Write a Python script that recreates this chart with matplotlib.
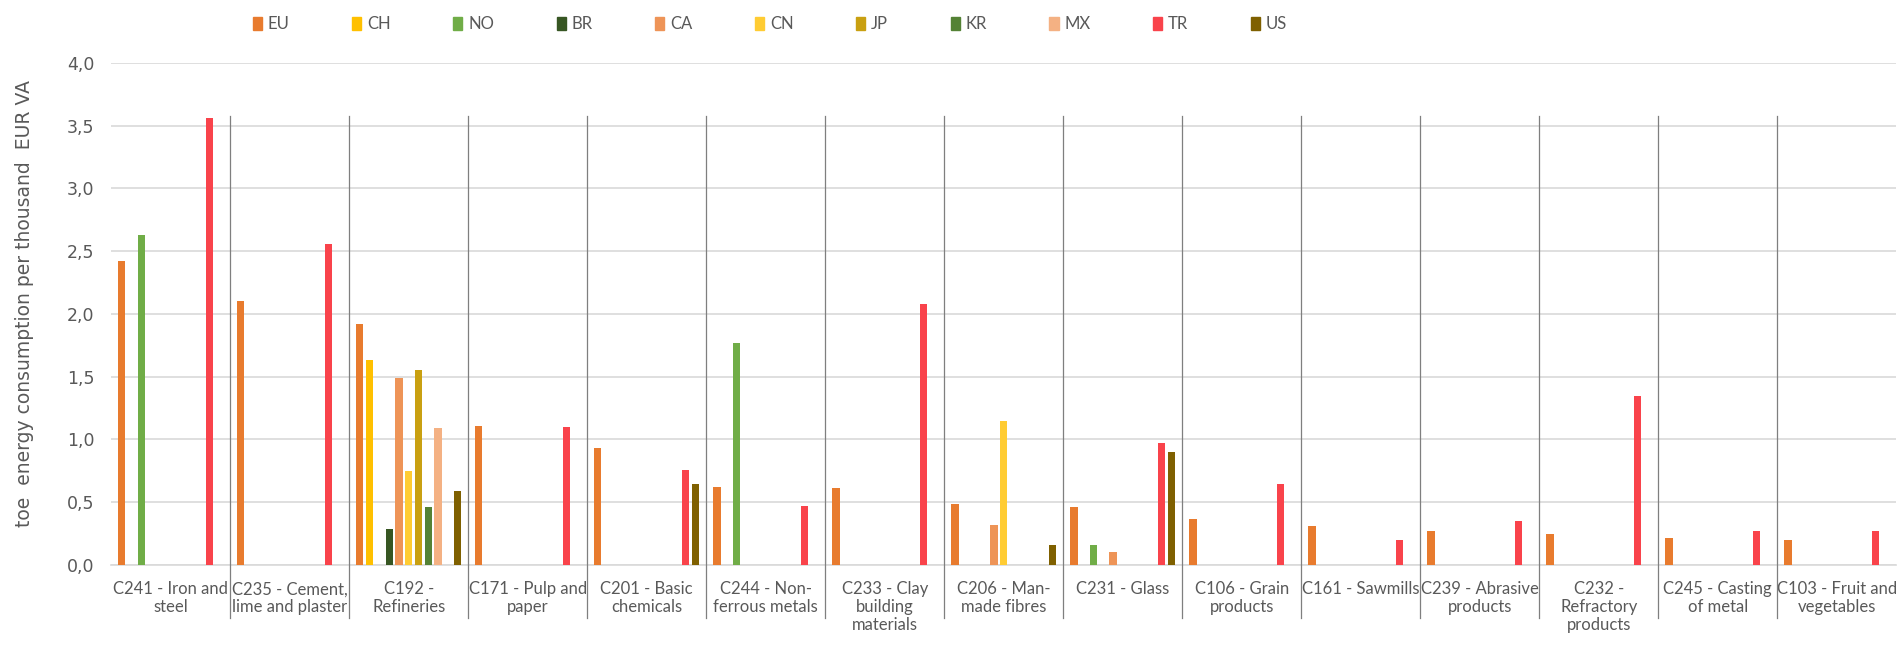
import numpy as np
import matplotlib.pyplot as plt
from matplotlib.patches import Patch

# categories (NACE sectors)
categories = [
    "C241 - Iron and\nsteel", "C235 - Cement,\nlime and plaster", "C192 -\nRefineries",
    "C171 - Pulp and\npaper", "C201 - Basic\nchemicals", "C244 - Non-\nferrous metals",
    "C233 - Clay\nbuilding\nmaterials", "C206 - Man-\nmade fibres", "C231 - Glass",
    "C106 - Grain\nproducts", "C161 - Sawmills", "C239 - Abrasive\nproducts",
    "C232 -\nRefractory\nproducts", "C245 - Casting\nof metal", "C103 - Fruit and\nvegetables",
]
n = np.nan
EU = [2.42, 2.10, 1.92, 1.11, 0.93, 0.62, 0.61, 0.49, 0.46, 0.37, 0.31, 0.27, 0.245, 0.215, 0.197]
CH = [n, n, 1.63, n, n, n, n, n, n, n, n, n, n, n, n]
NO = [2.63, n, n, n, n, 1.77, n, n, 0.157, n, n, n, n, n, n]
BR = [n, n, 0.29, n, n, n, n, n, n, n, n, n, n, n, n]
CA = [n, n, 1.49, n, n, n, n, 0.32, 0.10, n, n, n, n, n, n]
CN = [n, n, 0.75, n, n, n, n, 1.15, n, n, n, n, n, n, n]
JP = [n, n, 1.55, n, n, n, n, n, n, n, n, n, n, n, n]
KR = [n, n, 0.46, n, n, n, n, n, n, n, n, n, n, n, n]
MX = [n, n, 1.09, n, n, n, n, n, n, n, n, n, n, n, n]
TR = [3.56, 2.56, n, 1.10, 0.76, 0.47, 2.08, n, 0.975, 0.645, 0.197, 0.35, 1.35, 0.27, 0.27]
US = [n, n, 0.59, n, 0.645, n, n, 0.157, 0.90, n, n, n, n, n, n]

series = ["EU", "CH", "NO", "BR", "CA", "CN", "JP", "KR", "MX", "TR", "US"]
values = [EU, CH, NO, BR, CA, CN, JP, KR, MX, TR, US]
colors = ["#E87B2E", "#FFC000", "#70AD47", "#375623", "#EE9457", "#FFCC33",
          "#C9A011", "#548235", "#F4B183", "#F9434B", "#7F6000"]

grey = "#595959"
fig = plt.figure(figsize=(19.01, 6.54), dpi=100)
ax = fig.add_axes([0.0585, 0.136, 0.939, 0.768])

x = np.arange(len(categories))
slot = 0.082
for i, (name, vals) in enumerate(zip(series, values)):
    ax.bar(x + (i - 5) * slot, vals, width=0.06, color=colors[i], zorder=3)

ax.set_xlim(-0.5, len(categories) - 0.5)
ax.set_ylim(0, 4)
ax.set_yticks(np.arange(0, 4.01, 0.5))
ax.set_yticklabels([f"{v:.1f}".replace(".", ",") for v in np.arange(0, 4.01, 0.5)])
ax.yaxis.grid(True, color="#D9D9D9", lw=1.2, zorder=0)
ax.tick_params(axis="y", length=0, labelsize=12.5, labelcolor=grey, pad=12)
ax.tick_params(axis="x", length=0)
ax.set_xticks([])
for s in ["top", "right", "left"]:
    ax.spines[s].set_visible(False)
ax.spines["bottom"].set_color("#D9D9D9")
ax.spines["bottom"].set_linewidth(1.2)

# separators between categories
for b in np.arange(0.5, len(categories) - 0.5, 1):
    ax.plot([b, b], [3.58, -0.42], color="#7F7F7F", lw=0.9, clip_on=False, zorder=4)

# category labels
for xi, lab in zip(x, categories):
    ax.text(xi, -0.13, lab, ha="center", va="top", fontsize=12, color=grey,
            family="Lato", linespacing=1.15)

ax.set_ylabel("toe  energy consumption per thousand  EUR VA", fontsize=13.5,
              color=grey, family="DejaVu Sans")
ax.yaxis.set_label_coords(-0.043, 0.52)

handles = [Patch(color=c, label=s) for s, c in zip(series, colors)]
fig.legend(handles=handles, loc="center", bbox_to_anchor=(0.405, 0.963), ncol=11,
           frameon=False, handlelength=0.55, handleheight=0.8, handletextpad=0.35,
           columnspacing=3.75, prop={"family": "Lato", "size": 12}, labelcolor=grey)

fig.savefig("out.png", dpi=100)
